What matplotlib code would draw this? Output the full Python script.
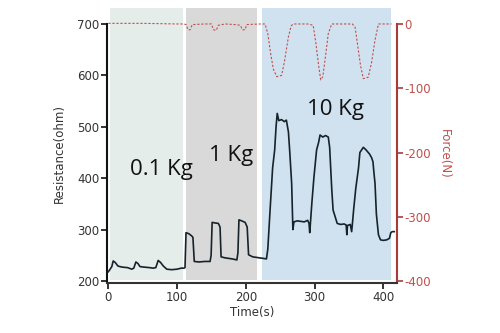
import matplotlib
matplotlib.use("Agg")
import matplotlib.pyplot as plt

plt.rcParams["axes.unicode_minus"] = False

# Resistance trace (time s, ohm)
res_time = [0, 2, 5, 7, 10, 14, 20, 28, 34, 37, 40, 43, 46, 52, 60, 65, 69, 72.5, 76, 80, 85, 92, 100, 106, 110, 111.5,
            113, 117, 121, 123, 125, 132, 140, 148, 149.5, 151, 155, 160, 162.5, 164, 170, 180, 187, 188.5, 190, 194, 199,
            202, 204, 210, 220, 230, 232, 235, 239, 242, 244, 245.7, 248, 252, 256, 259, 262, 264, 266.7, 268.5,
            270, 275, 280, 285, 290, 292, 293, 294, 296, 299, 303, 306, 308, 312, 316, 320, 322, 323.5, 325, 327, 330,
            333, 338, 343, 346, 347, 348, 352, 354, 355, 357, 360, 364, 366, 368.5, 371, 375, 380, 383, 385, 386.5,
            388, 390, 393, 396, 400, 405, 409, 411, 413, 416]
res_value = [218, 222, 228, 239, 236, 229, 227, 226, 223, 225, 237, 234, 228, 227, 226, 225, 226, 240, 236, 229, 223, 222,
             223, 225, 225, 226,
             294, 292, 288, 285, 238, 237, 238, 238, 250, 314, 313, 312, 305, 247, 245, 243, 241, 255, 319, 317, 314,
             305, 251, 247, 245, 243, 262, 331, 420, 455, 500, 526, 512, 514, 510, 513, 490, 450, 390, 300,
             315, 317, 316, 315, 318, 312, 294, 312, 350, 400, 455, 470, 484, 480, 483, 480, 460, 420, 380, 338, 325,
             312, 310, 311, 309, 290, 308, 310, 296, 310, 340, 380, 420, 450, 455, 460, 455, 447, 440, 432, 410,
             390, 330, 290, 280, 279, 280, 283, 294, 296, 296]

# Force trace (time s, N)
force_time = [0, 50, 100, 110, 113, 116, 119, 122, 140, 150, 153, 157, 160, 170, 185, 192, 195, 199, 201, 220, 228,
              232, 236, 240, 245, 252, 256, 262, 266, 269, 290, 298, 302, 306, 309, 312, 316, 320, 325, 355, 359, 363,
              367, 371, 378, 383, 388, 393, 412]
force_value = [1, 1, 0, 0, -1, -9, -9, -1, 0, 0, -9, -10, -2, 0, -1, -2, -9, -9, -1, 0, 0,
               -15, -45, -70, -82, -80, -60, -20, -3, 0, 0, -2, -30, -65, -87, -82, -50, -15, 0, 0, -5, -35,
               -65, -85, -83, -60, -25, 0, 0]

# Load regions
region_labels = ["0.1 Kg", "1 Kg", "10 Kg"]
region_start = [2, 113, 223]
region_end = [108, 216.5, 411]
region_colors = ["#e5edeb", "#d9d9d9", "#d0e1ef"]
label_x = [77, 179, 330]
label_y = [416, 445, 534]

fig = plt.figure(figsize=(5, 3.33), dpi=100)
ax = fig.add_axes([0.214, 0.150, 0.580, 0.778])
ax2 = ax.twinx()
ax.set_zorder(ax2.get_zorder() + 1)
ax.patch.set_visible(False)

for s, e, c in zip(region_start, region_end, region_colors):
    ax2.axvspan(s, e, ymin=0.01, ymax=1.062, color=c, lw=0, clip_on=False, zorder=0)

ax.plot(res_time, res_value, color="#16232b", lw=1.2, zorder=3)
ax2.plot(force_time, force_value, color="#c0504d", lw=0.8, ls=(0, (2, 1.6)), clip_on=False, zorder=2)

for lab, x, y in zip(region_labels, label_x, label_y):
    ax.text(x, y, lab, fontsize=16, family="Open Sans", ha="center", va="center", color="#111111", zorder=4)

ax.set_xlim(-2, 420)
ax.set_ylim(196, 700)
ax2.set_ylim(-403, 0)
ax.set_xticks([0, 100, 200, 300, 400])
ax.set_yticks([200, 300, 400, 500, 600, 700])
ax2.set_yticks([0, -100, -200, -300, -400])

for sp in ["top"]:
    ax.spines[sp].set_visible(False)
    ax2.spines[sp].set_visible(False)
ax.spines["right"].set_visible(False)
ax2.spines["left"].set_visible(False)
ax2.spines["bottom"].set_visible(False)
ax.spines["left"].set_linewidth(1.5)
ax.spines["bottom"].set_linewidth(1.5)
ax.spines["left"].set_color("#111111")
ax.spines["bottom"].set_color("#333333")
ax2.spines["right"].set_linewidth(1.5)
ax2.spines["right"].set_color("#a83a3a")

ax.tick_params(axis="both", direction="out", length=4, width=1.2, labelsize=8.5, colors="#111111",
               labelcolor="#333333", pad=1.5)
ax2.tick_params(axis="y", direction="out", length=4, width=1.2, labelsize=8.5, colors="#a83a3a",
                labelcolor="#c0504d", pad=1.5)

ax.set_ylabel("Resistance(ohm)", fontsize=8.5, color="#333333", labelpad=8)
ax.set_xlabel("Time(s)", fontsize=8.5, color="#333333", labelpad=2)
ax2.set_ylabel("Force(N)", fontsize=8.5, color="#c0504d", rotation=270, labelpad=14)

fig.savefig("out.png", dpi=100)
